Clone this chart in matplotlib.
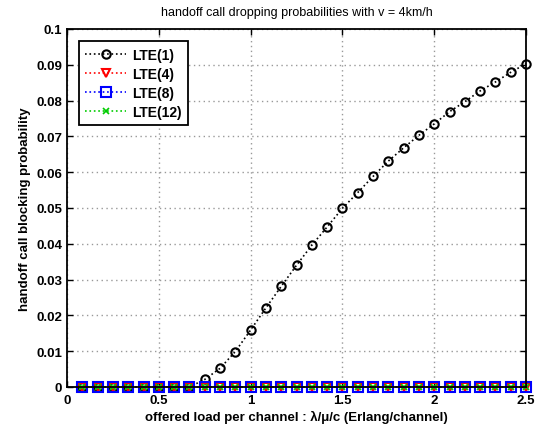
import matplotlib
matplotlib.use("Agg")
import matplotlib.pyplot as plt
import numpy as np

plt.rcParams['font.family'] = ['Liberation Sans', 'DejaVu Sans']

# data
k = np.arange(1, 31)
load = k / 12.0
lte1 = [0, 0, 0, 0, 0, 0, 0, 0,
        0.0021, 0.0052, 0.0099, 0.0159, 0.0221, 0.0281, 0.0340, 0.0396,
        0.0447, 0.0499, 0.0543, 0.0588, 0.0631, 0.0668, 0.0703, 0.0735,
        0.0769, 0.0797, 0.0827, 0.0852, 0.0879, 0.0903]
lte4 = [0.0] * 30
lte8 = [0.0] * 30
lte12 = [0.0] * 30
series_names = ['LTE(1)', 'LTE(4)', 'LTE(8)', 'LTE(12)']
xticks = [0, 0.5, 1, 1.5, 2, 2.5]
yticks = [0, 0.01, 0.02, 0.03, 0.04, 0.05, 0.06, 0.07, 0.08, 0.09, 0.1]
ytick_labels = ['0', '0.01', '0.02', '0.03', '0.04', '0.05', '0.06', '0.07', '0.08', '0.09', '0.1']

fig = plt.figure(figsize=(5.5, 4.27), dpi=100)
ax = fig.add_axes([67/550, 39/427, 459/550, 358/427])

ax.plot(load, lte1, ':', color='black', marker='o', mfc='none', mec='black', ms=6, mew=1.5, lw=1.2, label=series_names[0], clip_on=False, zorder=3)
ax.plot(load, lte4, ':', color='red', marker='v', mfc='none', mec='red', ms=6, mew=1.5, lw=1.2, label=series_names[1], clip_on=False, zorder=3)
ax.plot(load, lte8, ':', color='blue', marker='s', mfc='none', mec='blue', ms=6.5, mew=1.5, lw=1.2, label=series_names[2], clip_on=False, zorder=3)
ax.plot(load, lte12, ':', color='#00cc00', marker='x', mfc='none', mec='#00cc00', ms=5, mew=1.2, lw=1.2, label=series_names[3], clip_on=False, zorder=3)

ax.set_xlim(0, 2.5)
ax.set_ylim(0, 0.1)
ax.set_xticks(xticks)
ax.set_xticklabels([('%g' % v) for v in xticks])
ax.set_yticks(yticks)
ax.set_yticklabels(ytick_labels)
ax.tick_params(direction='in', top=True, right=True, length=4, width=1, labelsize=9.5)
ax.tick_params(axis='x', pad=5)
for lab in ax.get_xticklabels() + ax.get_yticklabels():
    lab.set_fontweight('bold')
for s in ax.spines.values():
    s.set_linewidth(1.3)
    s.set_zorder(4)
ax.grid(True, linestyle=(0, (1, 2.5)), color='#999999', linewidth=1)

ax.set_title('handoff call dropping probabilities with v = 4km/h', fontsize=9, pad=10)
ax.set_xlabel('offered load per channel : λ/μ/c (Erlang/channel)', fontsize=9.5, fontweight='bold', labelpad=3)
ax.set_ylabel('handoff call blocking probability', fontsize=9.5, fontweight='bold', labelpad=4)

leg = ax.legend(loc='upper left', fancybox=False, edgecolor='black', framealpha=1,
                prop={'weight': 'bold', 'size': 10}, handlelength=3, borderpad=0.45,
                handletextpad=0.4, labelspacing=0.37, bbox_to_anchor=(0.01, 0.985))
leg.get_frame().set_linewidth(1.3)
leg.set_zorder(5)

fig.savefig('out.png', dpi=100)
